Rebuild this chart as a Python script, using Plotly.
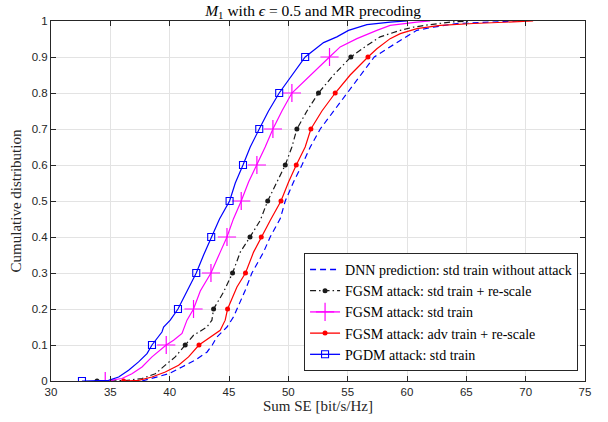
import plotly.graph_objects as go

# ---- data ----
dnn_se = [37.67, 38.79, 39.91, 41.04, 42.16, 43.14, 43.59, 43.98, 44.83, 45.38, 45.67, 46.37, 46.93,
          47.91, 48.47, 49.32, 49.74, 50.44, 51.15, 51.85, 52.69, 53.81, 54.94, 56.06, 57.24,
          59.43, 60.83, 62.23, 64.20, 67.01, 69.26]
dnn_cdf = [0.0, 0.011, 0.02, 0.039, 0.058, 0.08, 0.1, 0.122, 0.15, 0.178, 0.2, 0.252, 0.3,
           0.358, 0.4, 0.451, 0.5, 0.553, 0.6, 0.65, 0.7, 0.75, 0.8, 0.85, 0.9,
           0.946, 0.974, 0.983, 0.993, 0.997, 1.0]

fgsm_rs_se = [33.88, 36.26, 37.67, 38.79, 39.63, 40.47, 41.31, 42.01, 43.14, 43.56, 43.70, 44.54,
              45.30, 45.95, 46.77, 47.63, 48.26, 49.04, 49.74, 50.30, 50.72, 51.57, 52.54, 53.81,
              55.27, 56.62, 57.74, 59.43, 60.55, 61.95, 63.64, 65.32]
fgsm_rs_cdf = [0.0, 0.001, 0.007, 0.02, 0.044, 0.067, 0.1, 0.127, 0.15, 0.169, 0.2, 0.247,
               0.3, 0.358, 0.4, 0.446, 0.5, 0.553, 0.6, 0.65, 0.7, 0.75, 0.8, 0.85,
               0.9, 0.932, 0.956, 0.974, 0.983, 0.99, 0.997, 1.0]

fgsm_se = [34.57, 35.98, 36.82, 37.67, 38.51, 39.71, 40.33, 41.04, 41.46, 41.88, 42.01, 42.58,
           43.48, 44.26, 44.83, 45.38, 46.03, 46.65, 47.35, 48.05, 48.70, 49.46, 50.30, 51.85,
           53.47, 54.37, 55.78, 57.46, 58.58, 60.83, 61.95]
fgsm_cdf = [0.0, 0.007, 0.02, 0.039, 0.067, 0.1, 0.113, 0.132, 0.169, 0.192, 0.2, 0.25,
            0.3, 0.358, 0.4, 0.451, 0.5, 0.553, 0.6, 0.65, 0.7, 0.75, 0.8, 0.85,
            0.9, 0.928, 0.951, 0.974, 0.988, 0.997, 1.0]

adv_se = [36.12, 37.38, 38.51, 39.63, 40.75, 41.59, 42.47, 43.42, 44.26, 44.68, 44.88, 45.67,
          46.39, 47.07, 47.72, 48.47, 49.38, 50.02, 50.67, 51.42, 51.90, 52.83, 53.95, 55.21,
          56.71, 57.46, 58.58, 59.43, 60.83, 62.80, 65.60, 68.42, 70.63]
adv_cdf = [0.0, 0.002, 0.011, 0.025, 0.044, 0.067, 0.1, 0.122, 0.141, 0.169, 0.2, 0.261,
           0.3, 0.358, 0.4, 0.446, 0.5, 0.553, 0.6, 0.65, 0.7, 0.75, 0.8, 0.85,
           0.9, 0.923, 0.951, 0.965, 0.979, 0.988, 0.993, 0.997, 1.0]

pgdm_se = [32.61, 34.85, 35.70, 36.54, 37.38, 38.09, 38.51, 39.35, 39.49, 40.05, 40.70, 41.46,
           42.24, 42.86, 43.50, 44.20, 45.05, 45.53, 46.18, 46.79, 47.55, 48.33, 49.23, 50.30,
           51.42, 52.97, 54.09, 55.07, 56.62, 58.58, 60.00]
pgdm_cdf = [0.0, 0.002, 0.011, 0.03, 0.053, 0.076, 0.1, 0.136, 0.15, 0.169, 0.2, 0.25,
            0.3, 0.35, 0.4, 0.45, 0.5, 0.55, 0.6, 0.65, 0.7, 0.75, 0.8, 0.85,
            0.9, 0.94, 0.956, 0.974, 0.99, 0.997, 1.0]

deciles = [0.0, 0.1, 0.2, 0.3, 0.4, 0.5, 0.6, 0.7, 0.8, 0.9]

names = [
    "DNN prediction: std train without attack",
    "FGSM attack: std train + re-scale",
    "FGSM attack: std train",
    "FGSM attack: adv train + re-scale",
    "PGDM attack: std train",
]

SERIF = "Liberation Serif"
SANS = "Liberation Sans"
AX = "#262626"

series = [
    dict(x=dnn_se, y=dnn_cdf, color="#0000FF", dash="6px,4px", marker=None),
    dict(x=fgsm_rs_se, y=fgsm_rs_cdf, color="#1a1a1a", dash="6px,3px,1.5px,3px",
         marker=dict(symbol="circle", size=5, color="#1a1a1a")),
    dict(x=fgsm_se, y=fgsm_cdf, color="#FF00FF", dash="solid",
         marker=dict(symbol="cross-thin-open", size=13, color="#FF00FF",
                     line=dict(color="#FF00FF", width=1.2))),
    dict(x=adv_se, y=adv_cdf, color="#FF0000", dash="solid",
         marker=dict(symbol="circle", size=5, color="#FF0000")),
    dict(x=pgdm_se, y=pgdm_cdf, color="#0000FF", dash="solid",
         marker=dict(symbol="square-open", size=7, color="#0000FF",
                     line=dict(color="#0000FF", width=1.1))),
]

fig = go.Figure()
for name, s in zip(names, series):
    fig.add_trace(go.Scatter(x=s["x"], y=s["y"], mode="lines",
                             line=dict(color=s["color"], width=1.2, dash=s["dash"]),
                             showlegend=False, hoverinfo="skip"))
    if s["marker"] is not None:
        idx = [i for i, v in enumerate(s["y"]) if round(v, 3) in deciles]
        fig.add_trace(go.Scatter(x=[s["x"][i] for i in idx], y=[s["y"][i] for i in idx],
                                 mode="markers", marker=s["marker"], showlegend=False))

# legend-only entries
for name, s in zip(names, series):
    kw = dict(mode="lines+markers", marker=s["marker"]) if s["marker"] else dict(mode="lines")
    fig.add_trace(go.Scatter(x=[None], y=[None], name=name,
                             line=dict(color=s["color"], width=1.3, dash=s["dash"]), **kw))

axis_common = dict(
    showline=True, linecolor=AX, linewidth=1, mirror="ticks",
    ticks="inside", ticklen=5, tickcolor=AX, tickwidth=1,
    showgrid=True, gridcolor="#e3e3e3", gridwidth=1, zeroline=False,
    tickfont=dict(family=SANS, size=11.5, color=AX),
    automargin=False,
)

fig.update_layout(
    width=608, height=422,
    margin=dict(l=51, r=23, t=21, b=41),
    paper_bgcolor="white", plot_bgcolor="white",
    title=dict(text="<i>M</i><sub>1</sub> with <i>ϵ</i> = 0.5 and MR precoding",
               font=dict(family=SERIF, size=15.5, color="black"),
               x=0.515, xanchor="center", y=0.976, yanchor="middle"),
    xaxis=dict(range=[30, 75], dtick=5, tick0=30,
               title=dict(text="Sum SE [bit/s/Hz]", font=dict(family=SERIF, size=15, color=AX),
                          standoff=2),
               **axis_common),
    yaxis=dict(range=[0, 1], dtick=0.1, tick0=0,
               title=dict(text="Cumulative distribution", font=dict(family=SERIF, size=15, color=AX),
                          standoff=6),
               **axis_common),
    legend=dict(x=0.987, xanchor="right", y=0.028, yanchor="bottom",
                bgcolor="white", bordercolor=AX, borderwidth=1,
                font=dict(family=SERIF, size=14, color="black"),
                tracegroupgap=0),
)

fig.write_html("out.html")
